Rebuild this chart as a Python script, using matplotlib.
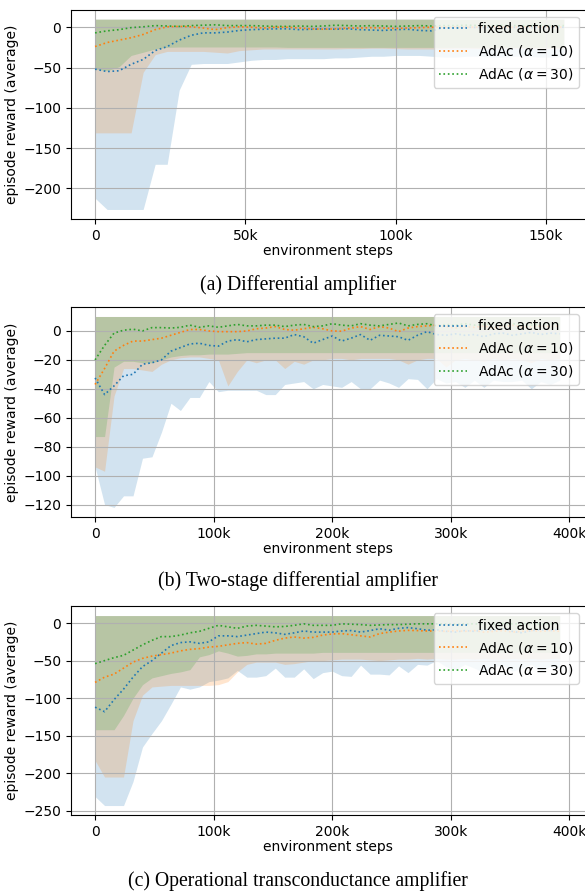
import matplotlib.pyplot as plt
import numpy as np
from matplotlib.ticker import FuncFormatter, MultipleLocator

# reward ceiling shared by every run (top of the min/max band)
best_reward = 10

# (a) differential amplifier, logged every 4k steps
steps_a = np.arange(0, 160000, 4000)
fixed_a = [-52, -55, -54, -46, -40, -29, -24, -16, -10, -7,
           -7, -6, -4, -3, -2.5, -2, -2, -3, -2.5, -2,
           -2.5, -2, -3, -3.5, -4, -3, -2.5, -4, -4.5, -1,
           -0.5, 0, -0.5, 0, -1, 0, -0.5, 0, 0.5, 0]
adac10_a = [-24, -19, -16, -13, -9, -3, 0.5, 1, 0.5, -1,
            -3, -0.5, 0.5, 0, -1, 0, 0, -1, -2, -2.5,
            -2, -1, -1, -0.5, -1, -1.5, -1, -0.5, 0, 0,
            0.5, 0, 0, 0.5, 0, 0, 0.5, 0, 0.5, 0]
adac30_a = [-7, -4.5, -3, -0.5, 0.5, 2, 1.5, 1, 2, 2.5,
            3, 2, 2, 2, 1.5, 1, 1, 1.5, 1, 1.5,
            2.5, 2, 1.5, 2, 1.5, 1, 1.5, 2, 1.5, 2,
            2, 2.5, 2, 2, 2.5, 2, 2, 2.5, 2, 2]
fixed_min_a = [-212, -226, -226, -226, -226, -170, -170, -78, -46, -45,
               -45, -45, -43, -41, -40, -40, -39, -39, -39, -39,
               -38, -38, -37, -36, -36, -35, -35, -35, -36, -37,
               -37, -36, -36, -37, -37, -36, -36, -37, -37, -36]
adac10_min_a = [-131, -131, -131, -131, -56, -34, -30, -30, -30, -30,
                -31, -32, -29, -28, -27, -27, -27, -27, -27, -27,
                -27, -26.5, -26.5, -26, -26, -26.5, -27, -27, -27, -26.5,
                -26, -26, -26.5, -26.5, -26, -26, -26, -26.5, -26.5, -26]
adac30_min_a = [-52, -54, -49, -35, -31, -27, -25, -24.5, -24.5, -24.5,
                -24.5, -24.5, -24.5, -24.5, -24.5, -24.5, -25, -25, -25, -25,
                -25, -25, -25, -25, -25, -25, -25, -25, -25, -25,
                -25, -25, -25, -25, -25, -25, -25, -25, -25, -25]

# (b) two-stage differential amplifier, logged every 8k steps
steps_b = np.arange(0, 400000, 8000)
fixed_b = [-32.5, -44, -38, -31, -30, -23, -22, -20, -14, -11.5,
           -9, -8.5, -10, -10.5, -7, -6, -7.5, -6, -5.5, -5,
           -5, -2.5, -4, -8.5, -6, -3.5, -7, -5, -2.5, -6.5,
           -3, -3.5, -4, -6.5, -3, -0.5, -2.5, -3, -2, -3,
           -2.5, -4, -2, -1.5, -3, -2, -1, -2.5, -1.5, -2]
adac10_b = [-37, -26, -14, -10, -7, -7, -6, -5, -3, -1,
            1, 1, 0, -0.5, -0.5, -0.5, 0, 1.5, 2, 3,
            1, 0.5, 1.5, 2.5, 1.5, 0, -0.2, 2, 3, 1,
            3, 2, -0.5, 2, 3, 3.5, 4, 3, 2, 3,
            2.5, 3.5, 2, 3, 4, 2.5, 3, 3.5, 3, 3.5]
adac30_b = [-20, -10, -1.5, 0.5, 1.2, 0, 2.3, 2.3, 2, 2.5,
            4, 2.5, 3.5, 2.5, 3.5, 4.5, 3.5, 3.5, 4, 4,
            3, 4, 4.5, 3, 3.5, 5, 4, 3.5, 5, 4,
            3.5, 4.5, 5.5, 3.5, 4.5, 5, 3.5, 4.5, 4, 5,
            4, 4.5, 5, 4, 5, 4.5, 4, 5, 4.5, 5]
fixed_min_b = [-94, -120, -122, -114, -114, -88, -87, -70, -50, -55,
               -46, -46, -35, -42, -41, -41, -41, -41, -44, -44,
               -37, -36, -35, -40, -37, -38, -39, -35, -40, -40,
               -34, -36, -39, -33, -33.5, -40, -33, -36, -35, -39,
               -34, -39, -34, -35, -35, -34, -40, -35, -37, -34]
adac10_min_b = [-94, -97, -45, -26, -26, -27, -28, -23, -20, -18.5,
                -18, -18, -19, -20, -38, -28, -20, -22, -20, -20,
                -26, -21, -23, -20, -20, -19, -19, -20, -19, -19,
                -19, -19, -20, -23, -20, -19, -19, -25, -20, -19,
                -20, -21, -19, -20, -19, -20, -22, -19, -20, -19]
adac30_min_b = [-73, -73, -25, -21, -21, -22, -22, -20, -18, -17,
                -16.5, -16.5, -16, -16, -16, -15.5, -15, -15, -15, -15,
                -15, -15, -15, -15, -15, -15, -15, -15, -15, -15,
                -15, -15, -15, -15, -15, -15, -15, -15, -15, -15,
                -15, -15, -15, -15, -15, -15, -15, -15, -15, -15]

# (c) operational transconductance amplifier, logged every 8k steps
steps_c = np.arange(0, 400000, 8000)
fixed_c = [-112, -118, -102, -88, -72, -58, -50, -40, -30, -26,
           -25, -27, -25, -17, -17, -18, -16, -14, -12, -13,
           -15, -13, -10.5, -12, -12, -12, -10.5, -10, -12, -10,
           -7.5, -9.5, -7, -6, -7.5, -9.5, -9, -11, -12, -10,
           -11, -9, -10, -8, -11, -13, -10, -9, -10, -8]
adac10_c = [-79, -72, -68, -60, -52, -47, -44, -42, -40, -37,
            -35, -34, -32, -31, -29, -27, -26, -28, -27, -23,
            -20, -18.5, -20, -19, -16, -14.5, -14, -15.5, -17, -18.5,
            -14, -12, -10.5, -9.7, -10, -10.6, -10.5, -11, -10, -11,
            -10, -12, -11, -10, -12, -11, -10, -11, -10, -11]
adac30_c = [-54, -50, -46, -43, -36, -29, -23, -18, -18, -16,
            -13, -11, -7, -3, -5, -7, -4, -3, -4, -5,
            -4.5, -3, -1, -3, -3, -3, -1, -1.5, -2, -3,
            -2.5, -2, -2, -1.5, -1, -1, -1, -1, -1.5, -1,
            -1, -1.5, -1, -0.5, -1, -1, -0.5, -1, -1, -0.5]
fixed_min_c = [-231, -243, -243, -243, -211, -165, -147, -130, -108, -85,
               -88, -85, -78, -76, -73, -63, -72, -72, -70, -60,
               -72, -72, -61, -74, -66, -64, -70, -71, -56, -68,
               -68, -69, -57, -66, -55, -56, -50, -58, -62, -55,
               -60, -66, -58, -56, -64, -60, -55, -65, -58, -60]
adac10_min_c = [-183, -205, -205, -205, -130, -96, -85, -84, -83, -83,
                -83, -83, -83, -82, -78, -65, -55, -52, -52, -52,
                -55, -54, -52, -50, -50, -49, -48, -48, -48, -49,
                -50, -49, -48, -48, -47, -48, -47, -48, -48, -47,
                -48, -47, -48, -48, -47, -48, -47, -48, -47, -47]
adac30_min_c = [-142, -142, -142, -123, -100, -82, -73, -70, -67, -65,
                -62, -45, -42, -37, -40, -44, -43, -41, -41, -40,
                -40, -40, -40, -40, -39, -39, -39, -39, -39, -39,
                -39, -39, -39, -39, -39, -39, -39, -39, -39, -39,
                -39, -39, -39, -39, -39, -39, -39, -39, -39, -39]

labels = ["fixed action", r"AdAc ($\alpha=10$)", r"AdAc ($\alpha=30$)"]
colors = ["tab:blue", "tab:orange", "tab:green"]

panels = [
    (steps_a, [fixed_a, adac10_a, adac30_a],
     [fixed_min_a, adac10_min_a, adac30_min_a], "(a) Differential amplifier"),
    (steps_b, [fixed_b, adac10_b, adac30_b],
     [fixed_min_b, adac10_min_b, adac30_min_b], "(b) Two-stage differential amplifier"),
    (steps_c, [fixed_c, adac10_c, adac30_c],
     [fixed_min_c, adac10_min_c, adac30_min_c], "(c) Operational transconductance amplifier"),
]

# axes boxes in figure fractions, x range, tick spacing, caption height
boxes = [[0.1214, 0.7548, 0.88, 0.2344],
         [0.1214, 0.4211, 0.88, 0.2352],
         [0.1214, 0.0873, 0.88, 0.2340]]
xlims = [(-8000, 163300), (-20300, 414000), (-20300, 414000)]
xsteps = [50000, 100000, 100000]
ysteps = [50, 20, 50]
caption_y = [0.6809, 0.3495, 0.0135]

plt.rcParams["font.size"] = 10

fig = plt.figure(figsize=(5.85, 8.93), dpi=100)
kfmt = FuncFormatter(lambda x, pos: "0" if x == 0 else f"{int(round(x / 1000))}k")

for (steps, means, mins, caption), box, xl, xs, ys, cy in zip(
        panels, boxes, xlims, xsteps, ysteps, caption_y):
    ax = fig.add_axes(box)
    for mean, low, label, color in zip(means, mins, labels, colors):
        ax.fill_between(steps, low, np.full(len(steps), best_reward),
                        color=color, alpha=0.2, linewidth=0)
        ax.plot(steps, mean, ":", color=color, linewidth=1.2, label=label)
    ax.set_xlim(*xl)
    ax.xaxis.set_major_locator(MultipleLocator(xs))
    ax.yaxis.set_major_locator(MultipleLocator(ys))
    ax.xaxis.set_major_formatter(kfmt)
    ax.grid(True)
    ax.set_xlabel("environment steps", labelpad=1)
    ax.set_ylabel("episode reward (average)", labelpad=3)
    ax.legend(loc="upper right")
    fig.text(0.51, cy, caption, ha="center", va="center",
             family="Liberation Serif", fontsize=14.2)

fig.savefig("out.png", dpi=100)
